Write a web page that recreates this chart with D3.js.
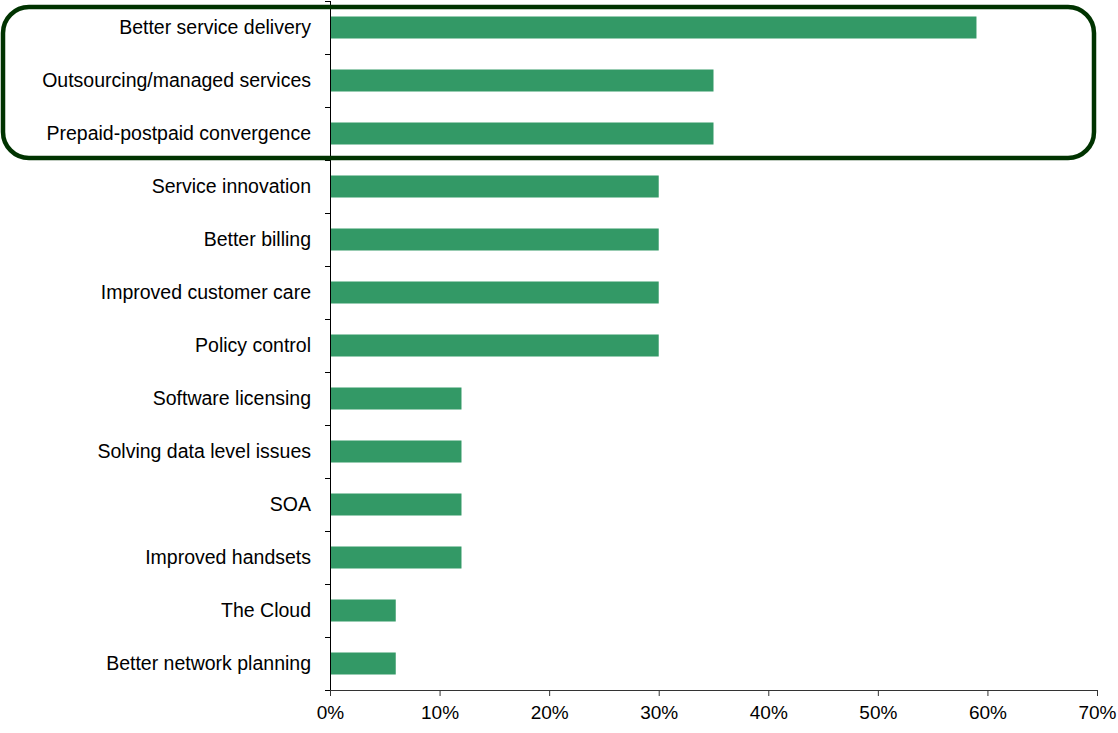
<!DOCTYPE html>
<html>
<head>
<meta charset="utf-8">
<script src="https://cdn.jsdelivr.net/npm/d3@7/dist/d3.min.js"></script>
<style>
    body { margin: 0; background: #fff; }
    svg text { font-family: "Liberation Sans", Arial, sans-serif; fill: #000; }
</style>
</head>
<body>
<svg id="chart" width="1118" height="733"></svg>
<script>
// Chart data
const categories = [
    'Better service delivery',
    'Outsourcing/managed services',
    'Prepaid-postpaid convergence',
    'Service innovation',
    'Better billing',
    'Improved customer care',
    'Policy control',
    'Software licensing',
    'Solving data level issues',
    'SOA',
    'Improved handsets',
    'The Cloud',
    'Better network planning'
];
const values = [0.59, 0.35, 0.35, 0.30, 0.30, 0.30, 0.30, 0.12, 0.12, 0.12, 0.12, 0.06, 0.06];
const xTicks = [0, 0.1, 0.2, 0.3, 0.4, 0.5, 0.6, 0.7];
const highlighted = 3; // top rows inside the rounded box

const svg = d3.select('#chart');
const plotLeft = 330, plotRight = 1097, plotTop = 1, plotBottom = 690;
const barHeight = 22;

const x = d3.scaleLinear().domain([0, 0.7]).range([plotLeft, plotRight]);
const y = d3.scaleBand().domain(categories).range([plotTop, plotBottom]);

// Bars
svg.append('g')
    .selectAll('rect')
    .data(categories)
    .enter().append('rect')
    .attr('x', x(0))
    .attr('y', d => y(d) + (y.bandwidth() - barHeight) / 2)
    .attr('width', (d, i) => x(values[i]) - x(0))
    .attr('height', barHeight)
    .attr('fill', '#339966');

// Y axis: line with ticks at band boundaries
const yAxis = svg.append('g');
yAxis.append('line')
    .attr('x1', plotLeft + 0.5).attr('x2', plotLeft + 0.5)
    .attr('y1', plotTop).attr('y2', plotBottom)
    .attr('stroke', '#000');
const bounds = categories.map(d => y(d)).concat([plotBottom]);
yAxis.selectAll('.tick')
    .data(bounds)
    .enter().append('line')
    .attr('x1', plotLeft - 5).attr('x2', plotLeft)
    .attr('y1', d => Math.round(d) + 0.5)
    .attr('y2', d => Math.round(d) + 0.5)
    .attr('stroke', '#000');
yAxis.selectAll('text')
    .data(categories)
    .enter().append('text')
    .attr('x', 311)
    .attr('y', d => y(d) + y.bandwidth() / 2)
    .attr('dy', '0.35em')
    .attr('text-anchor', 'end')
    .attr('font-size', 19.5)
    .text(d => d);

// X axis
const xAxis = svg.append('g')
    .attr('transform', `translate(0,${plotBottom})`)
    .call(d3.axisBottom(x)
        .tickValues(xTicks)
        .tickFormat(d3.format('.0%'))
        .tickSize(6)
        .tickSizeOuter(0));
xAxis.select('.domain').attr('stroke', '#333');
xAxis.selectAll('.tick line').attr('stroke', '#333');
xAxis.selectAll('text')
    .attr('font-size', 19)
    .attr('font-family', '"Liberation Sans", Arial, sans-serif')
    .attr('fill', '#000')
    .attr('dy', '1.05em');

// Rounded highlight box around the top rows
const boxBottom = y(categories[highlighted]) - 2;
svg.append('rect')
    .attr('x', 3)
    .attr('y', 7)
    .attr('width', 1091)
    .attr('height', boxBottom - 7)
    .attr('rx', 26)
    .attr('ry', 26)
    .attr('fill', 'none')
    .attr('stroke', '#003300')
    .attr('stroke-width', 4.5);
</script>
</body>
</html>
